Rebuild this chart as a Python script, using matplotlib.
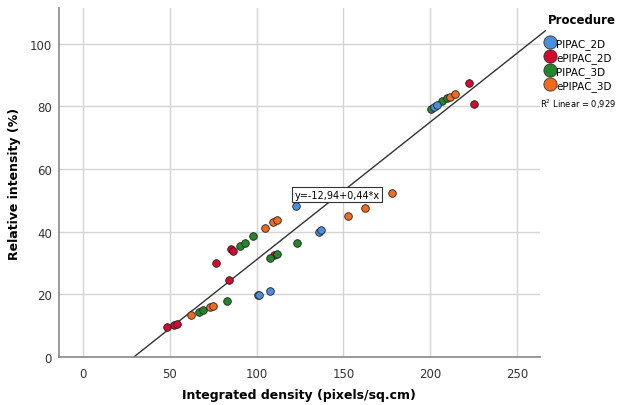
import matplotlib
matplotlib.use("Agg")
import matplotlib.pyplot as plt
from matplotlib.lines import Line2D
import numpy as np

# data
groups = ["PIPAC_2D", "ePIPAC_2D", "PIPAC_3D", "ePIPAC_3D"]
colors = ["#4a8fdc", "#d10a30", "#22862a", "#f26a1e"]

pipac2d_x = [100.9, 101.5, 107.6, 122.6, 135.7, 137.2, 202.3, 203.5]
pipac2d_y = [19.7, 19.8, 21.0, 48.2, 39.9, 40.5, 79.9, 80.3]

epipac2d_x = [48.7, 52.7, 54.1, 76.7, 84.0, 85.6, 86.3, 110.0, 222.0, 225.1]
epipac2d_y = [9.5, 10.3, 10.5, 30.1, 24.7, 34.5, 33.8, 32.5, 87.4, 80.7]

pipac3d_x = [66.8, 69.3, 82.9, 90.4, 93.1, 98.1, 107.8, 111.7, 123.5, 200.6, 206.7, 209.5]
pipac3d_y = [14.5, 15.1, 18.0, 35.5, 36.5, 38.6, 31.7, 32.9, 36.3, 79.1, 81.7, 82.6]

epipac3d_x = [62.5, 73.3, 74.8, 105.1, 109.4, 111.5, 152.6, 162.1, 178.1, 211.5, 213.9]
epipac3d_y = [13.5, 16.0, 16.3, 41.3, 43.0, 43.7, 44.9, 47.7, 52.5, 83.1, 84.0]

intercept = -12.94
slope = 0.44
r2 = "0,929"

fig = plt.figure(figsize=(6.17, 4.06), dpi=100)
ax = fig.add_axes([0.0956, 0.1182, 0.7796, 0.8596])

series = [(pipac2d_x, pipac2d_y), (epipac2d_x, epipac2d_y),
          (pipac3d_x, pipac3d_y), (epipac3d_x, epipac3d_y)]
order = [1, 2, 0, 3]
for i in order:
    xs, ys = series[i]
    ax.scatter(xs, ys, s=30, color=colors[i], edgecolors="#222222",
               linewidths=0.6, zorder=3)

# fit line
x0 = -intercept / slope
xl = np.array([x0, 266])
ax.plot(xl, intercept + slope * xl, color="#333333", lw=1.0, zorder=2, clip_on=False)

ax.text(146.5, 51.8, "y=-12,94+0,44*x", fontsize=7, ha="center", va="center",
        bbox=dict(boxstyle="square,pad=0.25", fc="white", ec="#333333", lw=0.8), zorder=4)

ax.set_xlim(-13.6, 263)
ax.set_ylim(0, 111.4)
ax.set_xticks([0, 50, 100, 150, 200, 250])
ax.set_yticks([0, 20, 40, 60, 80, 100])
ax.grid(True, color="#d4d4d4", lw=1.0, zorder=0)
ax.set_axisbelow(True)
ax.tick_params(length=0, labelsize=8.5, labelcolor="#333333")
ax.tick_params(axis="x", pad=7)
ax.tick_params(axis="y", pad=5)
for s in ["top", "right"]:
    ax.spines[s].set_visible(False)
for s in ["left", "bottom"]:
    ax.spines[s].set_color("#888888")
    ax.spines[s].set_linewidth(1.2)

fig.text(0.485, 0.027, "Integrated density (pixels/sq.cm)", fontsize=9,
         fontweight="bold", ha="center", va="center")
ax.set_ylabel("Relative intensity (%)", fontsize=9, fontweight="bold", labelpad=6)

# legend
fig.text(0.888, 0.949, "Procedure", fontsize=8.5, fontweight="bold", ha="left", va="center")
handles = [Line2D([], [], marker="o", ls="", markersize=9.5, markerfacecolor=c,
                  markeredgecolor="#333333", markeredgewidth=0.6) for c in colors]
leg = fig.legend(handles, groups, loc="upper left", bbox_to_anchor=(0.878, 0.91),
                 frameon=False, fontsize=7.5, handletextpad=0.0,
                 labelspacing=0.3, borderpad=0.2, handlelength=1.2, borderaxespad=0)

fig.text(0.876, 0.743, "R$^2$ Linear = " + r2, fontsize=6, ha="left", va="center")

fig.savefig("out.png", dpi=100)
